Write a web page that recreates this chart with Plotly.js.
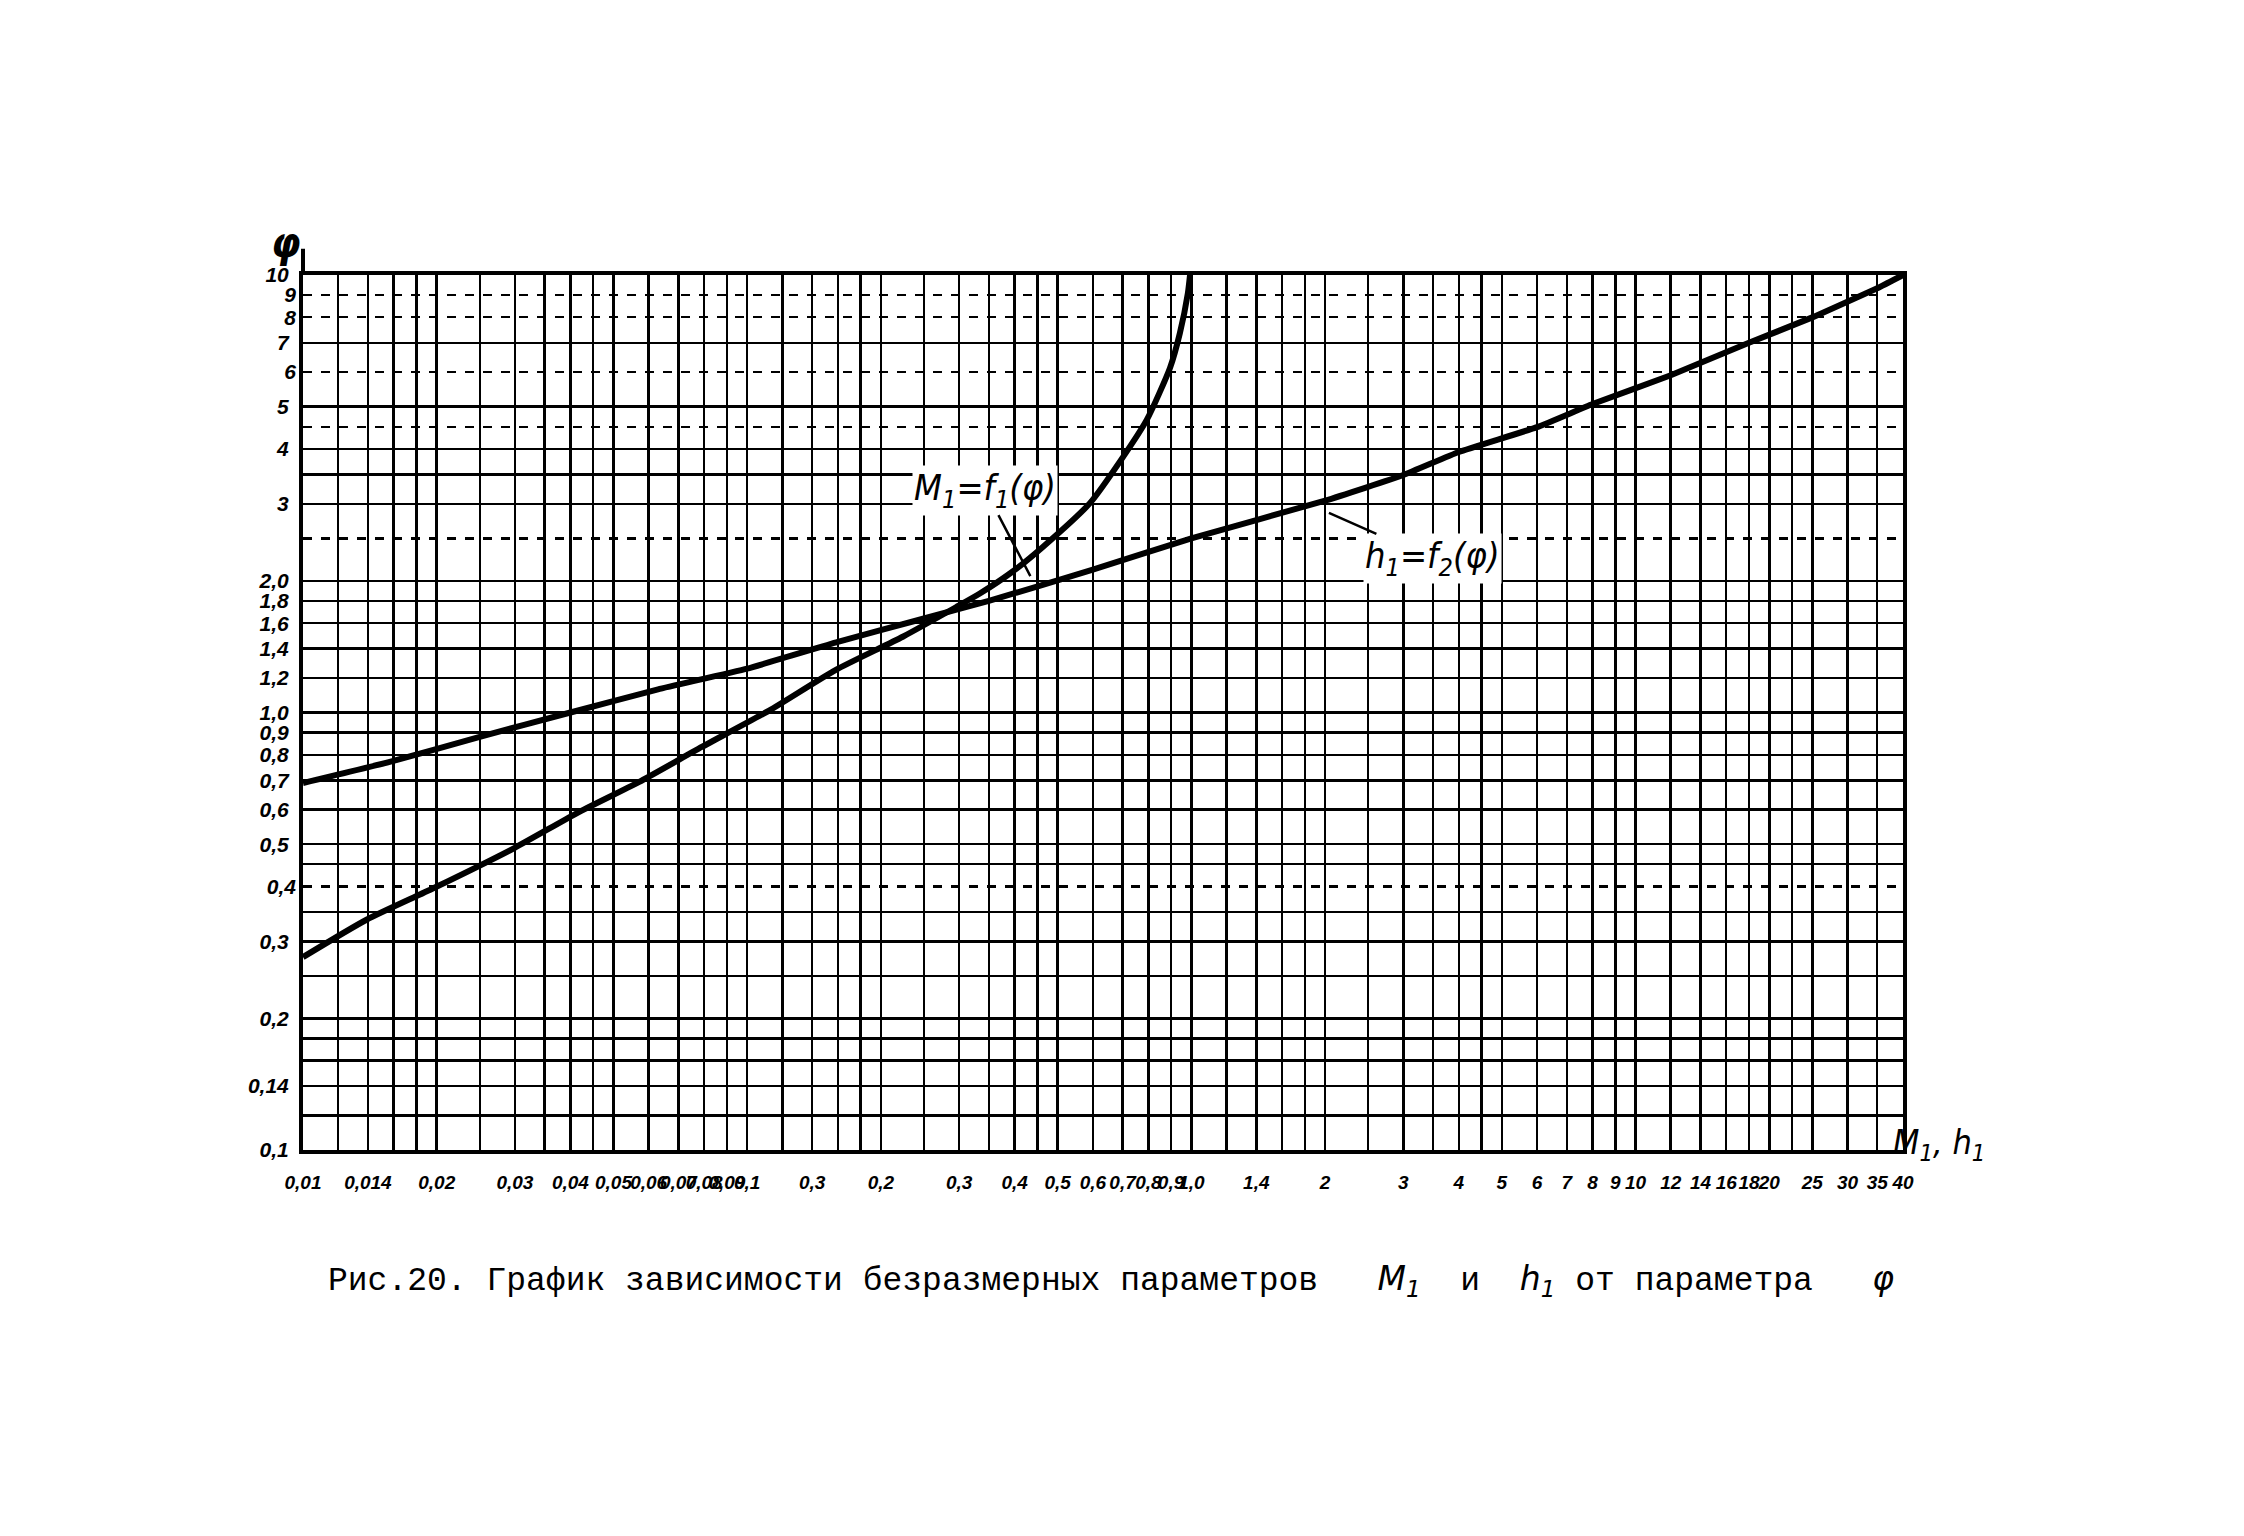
<!DOCTYPE html>
<html><head><meta charset="utf-8">
<script src="https://cdn.plot.ly/plotly-3.0.1.min.js"></script>
<style>html,body{margin:0;padding:0;background:#fff}</style>
</head><body>
<div id="chart" style="width:2244px;height:1536px"></div>
<script>
// Curve M1 = f1(phi)
const m1X = [0.01, 0.0139, 0.0197, 0.0299, 0.0414, 0.057, 0.079, 0.112, 0.158, 0.224, 0.295, 0.334, 0.396, 0.463, 0.591, 0.702, 0.794, 0.895, 0.942, 0.982, 0.993];
const m1Y = [0.276, 0.336, 0.397, 0.49, 0.589, 0.693, 0.834, 1.01, 1.25, 1.49, 1.74, 1.87, 2.1, 2.39, 3.01, 3.84, 4.67, 6.13, 7.36, 9.09, 10];
// Curve h1 = f2(phi)
const h1X = [0.01, 0.0156, 0.025, 0.04, 0.063, 0.1, 0.16, 0.25, 0.35, 0.6, 1.0, 2.0, 3.0, 4.0, 6.0, 8.0, 12, 18, 25, 35, 40];
const h1Y = [0.69, 0.77, 0.88, 1.0, 1.13, 1.26, 1.45, 1.64, 1.8, 2.12, 2.5, 3.05, 3.49, 3.94, 4.49, 5.07, 5.9, 7.0, 8.0, 9.33, 10];

// x axis labels (M1, h1)
const xLabelVals = [0.01, 0.014, 0.02, 0.03, 0.04, 0.05, 0.06, 0.07, 0.08, 0.09, 0.1, 0.14, 0.2, 0.3, 0.4, 0.5, 0.6, 0.7, 0.8, 0.9, 1, 1.4, 2, 3, 4, 5, 6, 7, 8, 9, 10, 12, 14, 16, 18, 20, 25, 30, 35, 40];
const xLabelText = ["0,01", "0,014", "0,02", "0,03", "0,04", "0,05", "0,06", "0,07", "0,08", "0,09", "0,1", "0,3", "0,2", "0,3", "0,4", "0,5", "0,6", "0,7", "0,8", "0,9", "1,0", "1,4", "2", "3", "4", "5", "6", "7", "8", "9", "10", "12", "14", "16", "18", "20", "25", "30", "35", "40"];
const xGridExtra = [0.012, 0.016, 0.018, 0.025, 0.035, 0.045, 0.12, 0.16, 0.18, 0.25, 0.35, 0.45, 1.2, 1.6, 1.8, 2.5, 3.5, 4.5, 22.5];

// y axis labels (phi)
const yLabelVals = [0.1, 0.14, 0.2, 0.3, 0.5, 0.6, 0.7, 0.8, 0.9, 1, 1.2, 1.4, 1.6, 1.8, 2, 3, 4, 5, 7, 10];
const yLabelText = ["0,1", "0,14", "0,2", "0,3", "0,5", "0,6", "0,7", "0,8", "0,9", "1,0", "1,2", "1,4", "1,6", "1,8", "2,0", "3", "4", "5", "7", "10"];
const yGridExtra = [0.12, 0.16, 0.18, 0.25, 0.35, 0.45, 3.5];
// dashed horizontal rulings
const yDashLabelVals = [0.4, 6, 8, 9];
const yDashLabelText = ["0,4", "6", "8", "9"];
const yDashExtra = [2.5, 4.5];

const hand = "Liberation Sans, Arial, sans-serif";
const xTickFont = {family: hand, size: 19, color: "#000", weight: "bold", style: "italic"};
const yTickFont = {family: hand, size: 21, color: "#000", weight: "bold", style: "italic"};
const annFont = "DejaVu Sans Condensed, DejaVu Sans, sans-serif";

const traces = [
  {x: m1X, y: m1Y, type: "scatter", mode: "lines", line: {color: "#000", width: 6, shape: "spline", smoothing: 0.6}, hoverinfo: "skip", showlegend: false},
  {x: h1X, y: h1Y, type: "scatter", mode: "lines", yaxis: "y2", line: {color: "#000", width: 6, shape: "spline", smoothing: 0.4}, hoverinfo: "skip", showlegend: false}
];

const yRange = [-1, 1];
const gridSolid = {showgrid: true, gridcolor: "#000", gridwidth: 2.5};
const it = (s) => "<span style=\"font-family:'DejaVu Sans';font-style:italic;font-weight:300\">" + s + "</span>";
const sp = "\u00a0";
const layout = {
  width: 2244, height: 1536,
  paper_bgcolor: "#fff", plot_bgcolor: "#fff",
  margin: {l: 303, r: 341, t: 275, b: 386},
  showlegend: false,
  xaxis: Object.assign({
    type: "log", range: [-2, Math.log10(40)],
    tickmode: "array", tickvals: xLabelVals, ticktext: xLabelText, tickangle: 0,
    ticks: "", ticklabelstandoff: 12, tickfont: xTickFont,
    minor: Object.assign({tickmode: "array", tickvals: xGridExtra, ticks: ""}, gridSolid),
    showline: true, linecolor: "#000", linewidth: 4, mirror: true, zeroline: false
  }, gridSolid),
  yaxis: Object.assign({
    type: "log", range: yRange,
    tickmode: "array", tickvals: yLabelVals, ticktext: yLabelText,
    ticks: "", ticklabelstandoff: 6, tickfont: yTickFont,
    minor: Object.assign({tickmode: "array", tickvals: yGridExtra, ticks: ""}, gridSolid),
    showline: true, linecolor: "#000", linewidth: 4, mirror: true, zeroline: false
  }, gridSolid),
  yaxis2: {
    type: "log", range: yRange, overlaying: "y", side: "left",
    tickmode: "array", tickvals: yDashLabelVals, ticktext: yDashLabelText,
    ticks: "", ticklabelstandoff: 6, tickfont: yTickFont,
    showgrid: true, gridcolor: "#000", gridwidth: 2.2, griddash: "dash",
    minor: {tickmode: "array", tickvals: yDashExtra, ticks: "", showgrid: true, gridcolor: "#000", gridwidth: 2.2, griddash: "dash"},
    showline: false, zeroline: false
  },
  shapes: [
    {type: "line", xref: "paper", yref: "paper", x0: 0, x1: 0, y0: 1, y1: 1.03, line: {color: "#000", width: 4}}
  ],
  annotations: [
    {xref: "x", yref: "y", x: Math.log10(0.434), y: Math.log10(2.05), ax: -45, ay: -86,
     text: "M<sub>1</sub>=f<sub>1</sub>(φ)", showarrow: true, arrowhead: 0, arrowwidth: 2.5, arrowcolor: "#000",
     font: {family: annFont, size: 36, color: "#000", style: "italic"}, bgcolor: "#fff"},
    {xref: "x", yref: "y", x: Math.log10(2.04), y: Math.log10(2.86), ax: 104, ay: 46,
     text: "h<sub>1</sub>=f<sub>2</sub>(φ)", showarrow: true, arrowhead: 0, arrowwidth: 2.5, arrowcolor: "#000",
     font: {family: annFont, size: 36, color: "#000", style: "italic"}, bgcolor: "#fff"},
    {xref: "paper", yref: "paper", x: -0.0106, y: 1.037, xanchor: "center", yanchor: "middle", showarrow: false,
     text: "φ", font: {family: annFont, size: 42, color: "#000", style: "italic", weight: "bold"}},
    {xref: "paper", yref: "paper", x: 1.0225, y: 0.006, xanchor: "center", yanchor: "middle", showarrow: false,
     text: "M<sub>1</sub>, h<sub>1</sub>", font: {family: annFont, size: 34, color: "#000", style: "italic"}},
    {xref: "paper", yref: "paper", x: 0.0144, y: -0.1497, xanchor: "left", yanchor: "middle", showarrow: false,
     text: "Рис.20. График зависимости безразмерных параметров" + sp + sp + " " + it("M<sub>1</sub>") + sp + " и " + sp + it("h<sub>1</sub>") + " от параметра" + sp + sp + " " + it("φ"),
     font: {family: "Liberation Mono, DejaVu Sans Mono, monospace", size: 33, color: "#000"}}
  ]
};

Plotly.newPlot("chart", traces, layout, {staticPlot: true});
</script>
</body></html>
